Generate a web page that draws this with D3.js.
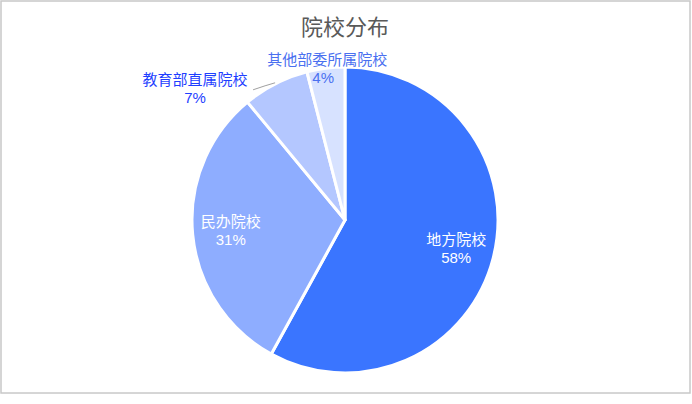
<!DOCTYPE html>
<html><head><meta charset="utf-8">
<script src="https://cdn.jsdelivr.net/npm/d3@7"></script>
<style>body{margin:0;background:#fff;}svg{display:block;font-family:"Noto Sans CJK SC","Microsoft YaHei",sans-serif;}</style>
</head><body>
<svg id="chart" width="692" height="404"></svg>
<script>
const title = "院校分布";
const categories = ["地方院校", "民办院校", "教育部直属院校", "其他部委所属院校"];
const values = [58, 31, 7, 4];
const colors = ["#3a75ff", "#8eadff", "#b4c7ff", "#d7e2ff"];

const W = 692, H = 404, cx = 345, cy = 220, R = 153;
const svg = d3.select("#chart");
svg.append("rect").attr("x", 1).attr("y", 1).attr("width", 689).attr("height", 392)
  .attr("fill", "#fff").attr("stroke", "#c8c8c8").attr("stroke-width", 1.5);

svg.append("text").attr("x", cx).attr("y", 35).attr("text-anchor", "middle")
  .attr("font-size", 22).attr("fill", "#595959").text(title);

const data = categories.map((c, i) => ({name: c, value: values[i], color: colors[i]}));
const total = d3.sum(values);
const pie = d3.pie().sort(null).value(d => d.value);
const arcs = pie(data);
const arc = d3.arc().innerRadius(0).outerRadius(R);
const g = svg.append("g").attr("transform", `translate(${cx},${cy})`);

g.selectAll("path").data(arcs).join("path")
  .attr("d", arc).attr("fill", d => d.data.color)
  .attr("stroke", "#fff").attr("stroke-width", 3).attr("stroke-linejoin", "round");

const pct = d => Math.round(d.data.value / total * 100) + "%";
const fs = 15;

function twoLines(x1, y1, x2, y2, name, p, color) {
  g.append("text").attr("x", x1).attr("y", y1).attr("text-anchor", "middle")
    .attr("fill", color).attr("font-size", fs).text(name);
  g.append("text").attr("x", x2).attr("y", y2).attr("text-anchor", "middle")
    .attr("fill", color).attr("font-size", fs)
    .attr("font-family", "'Liberation Sans', Arial, sans-serif").text(p);
}

// inner labels
const innerArc = d3.arc().innerRadius(R * 0.75).outerRadius(R * 0.75);
arcs.slice(0, 2).forEach(d => {
  const [x, y] = innerArc.centroid(d);
  twoLines(x, y - 4, x, y + 14.5, d.data.name, pct(d), "#fff");
});

// 教育部直属院校: outside label with leader line
{
  const d = arcs[2];
  const edge = d3.arc().innerRadius(R + 1).outerRadius(R + 1);
  const [sx, sy] = edge.centroid(d);
  const ex = sx - 22, ey = sy + 7;
  g.append("polyline").attr("points", `${sx},${sy} ${sx - 10},${sy + 3} ${ex},${ey}`)
    .attr("fill", "none").attr("stroke", "#a0a0a0").attr("stroke-width", 1);
  const lx = ex - 58;
  twoLines(lx, ey - 5, lx, ey + 13.5, d.data.name, pct(d), "#1f3fff");
}

// 其他部委所属院校: label at top
{
  const d = arcs[3];
  const a = d3.arc().innerRadius(R * 0.93).outerRadius(R * 0.93);
  const [x, y] = a.centroid(d);
  twoLines(x, y - 14, x - 4, y + 4.5, d.data.name, pct(d), "#4a70f0");
}
</script>
</body></html>
